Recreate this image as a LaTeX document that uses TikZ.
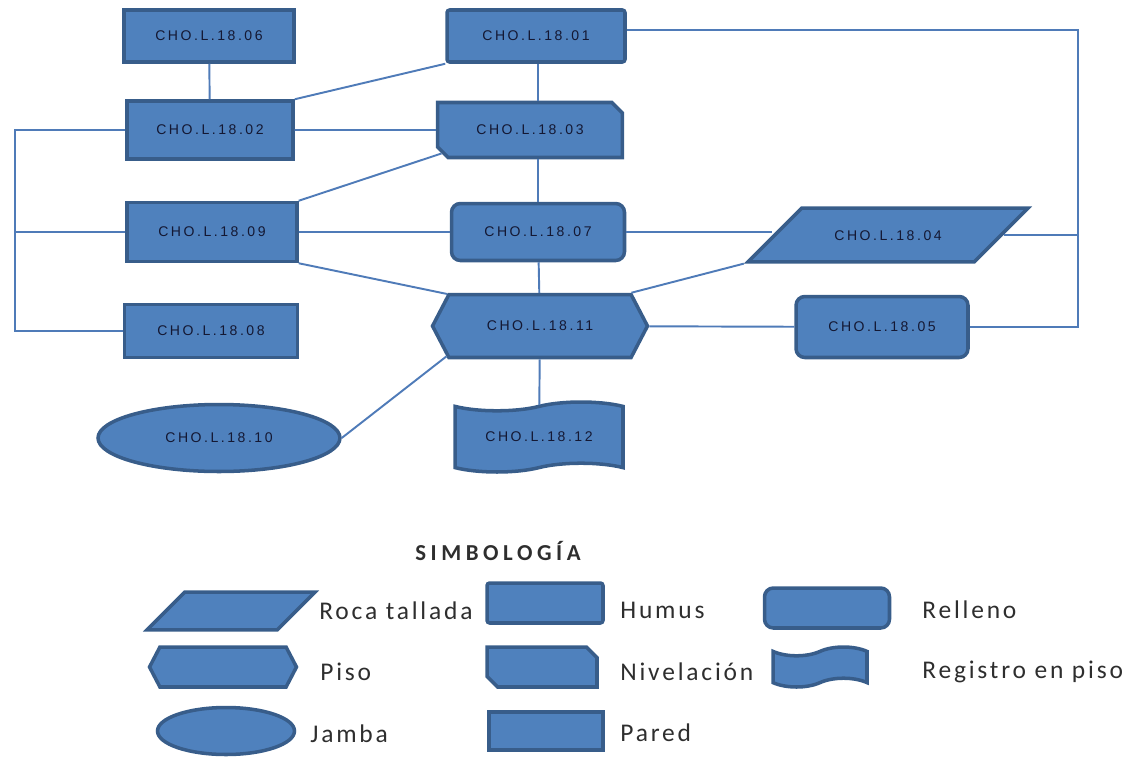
\documentclass[tikz,border=0pt]{standalone}
\usepackage{fontspec}
\setmainfont{Carlito}
\newfontfamily\codefont[LetterSpace=18]{Liberation Sans}
\newfontfamily\leyfont[LetterSpace=11]{Carlito}
\newfontfamily\titfont[LetterSpace=20]{Carlito}
\usetikzlibrary{shapes.geometric,shapes.misc,shapes.symbols}
\definecolor{azul}{HTML}{4F81BD}
\definecolor{borde}{HTML}{385D8A}
\definecolor{linea}{HTML}{4F7BB8}
\definecolor{texto}{HTML}{141833}
\definecolor{gristxt}{HTML}{2E2E2E}
\tikzset{
  base/.style={draw=borde, fill=azul, line width=2pt, inner sep=0pt, text=texto, font=\codefont\fontsize{8}{9}\selectfont},
  pared/.style={base, rectangle},
  humus/.style={base, rectangle, rounded corners=1.5pt},
  relleno/.style={base, rectangle, rounded corners=5pt},
  nivel/.style={base, chamfered rectangle, chamfered rectangle corners={north east,south west}, chamfered rectangle xsep=4pt},
  piso/.style={base, signal, signal to=west and east, signal pointer angle=125},
  roca/.style={base, trapezium, trapezium left angle=45, trapezium right angle=135, trapezium stretches body, text depth=0pt},
  jamba/.style={base, ellipse},
  registro/.style={base, tape, tape bend top=in and out, tape bend bottom=in and out},
  ln/.style={draw=linea, line width=1.1pt},
  ley/.style={anchor=west, inner sep=0pt, text=gristxt, font=\leyfont\fontsize{14.5}{16}\selectfont},
}
\begin{document}
\begin{tikzpicture}[x=0.02cm, y=-0.02cm]
  \useasboundingbox (0,0) rectangle (1138,757);
  % unidades
  \node[pared, minimum width=3.4cm, minimum height=1.04cm] (n06) at (209,36) {CHO.L.18.06};
  \node[pared, minimum width=3.32cm, minimum height=1.16cm] (n02) at (210,130) {CHO.L.18.02};
  \node[pared, minimum width=3.4cm, minimum height=1.18cm] (n09) at (212,232) {CHO.L.18.09};
  \node[pared, minimum width=3.46cm, minimum height=1.06cm] (n08) at (211,331) {CHO.L.18.08};
  \node[humus, minimum width=3.56cm, minimum height=1.04cm] (n01) at (536,36) {CHO.L.18.01};
  \node[nivel, minimum width=3.7cm, minimum height=1.1cm] (n03) at (530,130) {CHO.L.18.03};
  \node[relleno, minimum width=3.46cm, minimum height=1.14cm] (n07) at (538,232) {CHO.L.18.07};
  \node[piso, minimum width=4.3cm, minimum height=1.26cm] (n11) at (540,326) {CHO.L.18.11};
  \node[registro, minimum width=3.36cm, minimum height=1.4cm] (n12) at (539,437) {CHO.L.18.12};
  \node[jamba, minimum width=4.84cm, minimum height=1.34cm] (n10) at (219,438) {CHO.L.18.10};
  \node[roca, text height=6pt, inner ysep=12.3pt, inner xsep=3pt, minimum width=5.6cm] (n04) at (888,235) {CHO.L.18.04};
  \node[relleno, minimum width=3.44cm, minimum height=1.22cm] (n05) at (882,327) {CHO.L.18.05};

  % relaciones
  \coordinate (izq) at (15,0);
  \coordinate (der) at (1078,30);
  \draw[ln] (n06) -- (n02);
  \draw[ln] (n02.north east) -- (n01.south west);
  \draw[ln] (n02) -- (n03);
  \draw[ln] (n09.north east) -- (n03.south west);
  \draw[ln] (n09) -- (n07);
  \draw[ln] (n09.south east) -- (n11.161);
  \draw[ln] (n07.north |- n01.south) -- (n07.north |- n03.north);
  \draw[ln] (n07.north |- n03.south) -- (n07.north);
  \draw[ln] (n07) -- (n11);
  \draw[ln] (n11) -- (n12);
  \draw[ln] (n11.198) -- (n10.east);
  \draw[ln] (n11.20) -- (n04.bottom left corner);
  \draw[ln] (n07.east) -- (n07.east -| n04.west);
  \draw[ln] (n11) -- (n05);
  \draw[ln] (n01.east |- der) -- (der) |- (n05.east);
  \draw[ln] (n04.east) -- (n04.east -| der);
  \draw[ln] (n02.west) -| (izq |- n08.west) -- (n08.west);
  \draw[ln] (n09.west) -- (n09.west -| izq);

  % simbologia
  \node[text=gristxt, font=\titfont\bfseries\fontsize{13}{15}\selectfont] (tit) at (498,551) {SIMBOLOGÍA};
  \node[roca, text height=0pt, inner ysep=10.7pt, inner xsep=3pt, minimum width=3.36cm] (lroca) at (231,611) {};
  \node[ley] (troca) at (319,611) {Roca tallada};
  \node[humus, minimum width=2.32cm, minimum height=0.8cm] (lhumus) at (545,603) {};
  \node[ley] (thumus) at (620,610) {Humus};
  \node[relleno, minimum width=2.5cm, minimum height=0.8cm] (lrelleno) at (827,608) {};
  \node[ley] (trelleno) at (922,610) {Relleno};
  \node[piso, inner sep=3pt, minimum width=2.94cm, minimum height=0.8cm] (lpiso) at (223,667) {};
  \node[ley] (tpiso) at (320,672) {Piso};
  \node[nivel, inner sep=3pt, minimum width=2.2cm, minimum height=0.8cm] (lnivel) at (542,667) {};
  \node[ley] (tnivel) at (620,672) {Nivelación};
  \node[registro, inner sep=3pt, minimum width=1.88cm, minimum height=0.8cm] (lregistro) at (820,667) {};
  \node[ley] (tregistro) at (922,672) {Registro en piso};
  \node[jamba, minimum width=2.74cm, minimum height=0.94cm] (ljamba) at (226,731) {};
  \node[ley] (tjamba) at (310,734) {Jamba};
  \node[pared, minimum width=2.28cm, minimum height=0.76cm] (lpared) at (546,731) {};
  \node[ley] (tpared) at (620,733) {Pared};
\end{tikzpicture}
\end{document}
